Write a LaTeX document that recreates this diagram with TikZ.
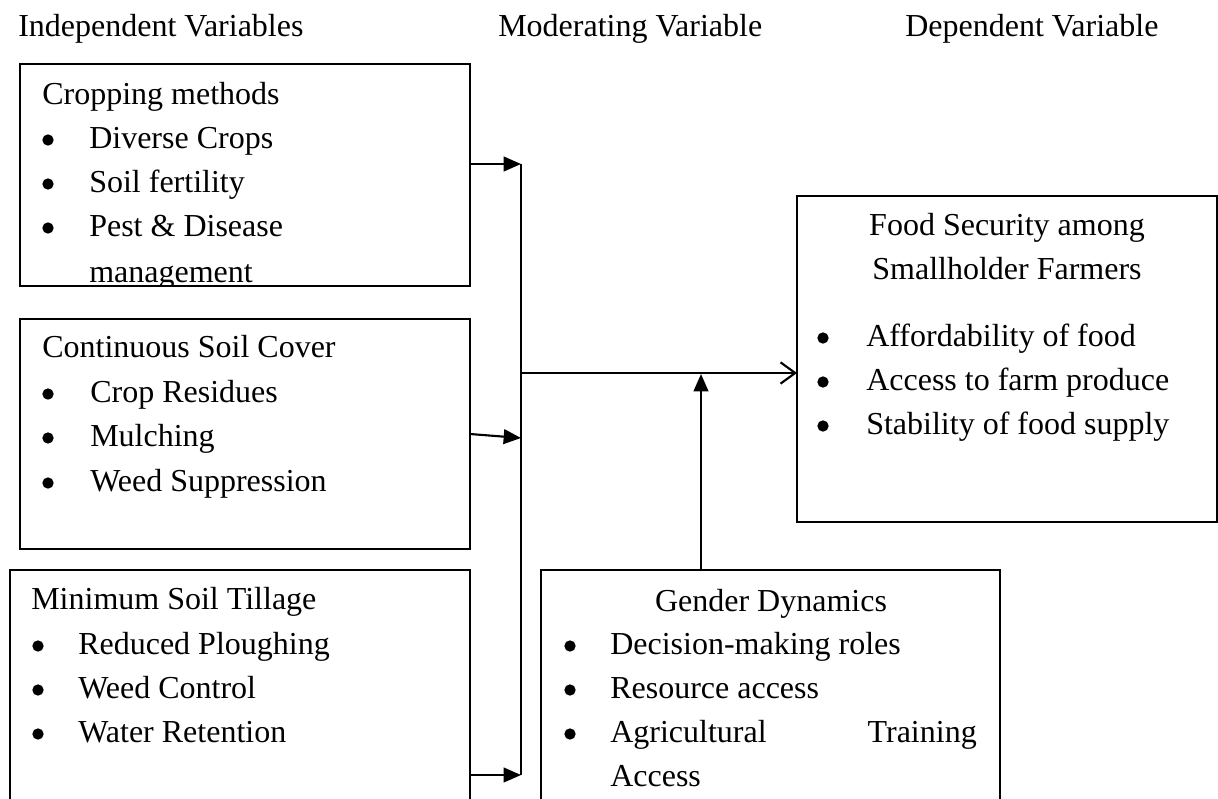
\documentclass[tikz,border=0pt]{standalone}
\usepackage{fontspec}
\setmainfont{Liberation Serif}
\usetikzlibrary{arrows.meta}
\begin{document}
\begin{tikzpicture}[x=0.75pt,y=-0.75pt,
  box/.style={draw,line width=1.4pt,anchor=north west,inner sep=0,outer sep=0},
  txt/.style={anchor=base west,inner sep=0,font=\fontsize{24}{30}\selectfont},
  rtxt/.style={anchor=base east,inner sep=0,font=\fontsize{24}{30}\selectfont},
  ctxt/.style={anchor=base,inner sep=0,font=\fontsize{24}{30}\selectfont},
  dot/.style={circle,fill,inner sep=0,minimum size=8.5pt},
  conn/.style={line width=1.6pt},
  tip/.style={-{Triangle[length=13pt,width=11pt]}},
  opentip/.style={-{Straight Barb[length=11pt,width=16pt,line width=1.6pt]}}
]
\path[use as bounding box, clip] (0,0) rectangle (1218,799);
\fill[white] (0,0) rectangle (1218,799);

% headers
\node[txt] (h1) at (18,37) {Independent Variables};
\node[txt] (h2) at (498,37) {Moderating Variable};
\node[txt] (h3) at (905,37) {Dependent Variable};

% boxes
\node[box,minimum width=337.5pt,minimum height=166.5pt] (b1) at (20,64) {};
\node[box,minimum width=337.5pt,minimum height=172.5pt] (b2) at (20,319) {};
\node[box,minimum width=345pt,minimum height=195pt] (b3) at (10,570) {};
\node[box,minimum width=344.25pt,minimum height=195pt] (b5) at (541,570) {};
\node[box,minimum width=315pt,minimum height=244.5pt] (b4) at (797,196) {};

% box 1 text (clipped at the bottom)
\begin{scope}
\clip (20,64) rectangle (470,285);
\node[txt] (t1) at (42,104) {Cropping methods};
\node[dot] (d11) at (48,140) {};
\node[txt] (t11) at (89,148) {Diverse Crops};
\node[dot] (d12) at (48,184) {};
\node[txt] (t12) at (89,192) {Soil fertility};
\node[dot] (d13) at (48,228) {};
\node[txt] (t13) at (89,236) {Pest \& Disease};
\node[txt] (t14) at (89,282) {management};
\end{scope}

% box 2 text
\node[txt] (t2) at (42,357) {Continuous Soil Cover};
\node[dot] (d21) at (48,394) {};
\node[txt] (t21) at (90,402) {Crop Residues};
\node[dot] (d22) at (48,438) {};
\node[txt] (t22) at (90,446) {Mulching};
\node[dot] (d23) at (48,483) {};
\node[txt] (t23) at (90,491) {Weed Suppression};

% box 3 text
\node[txt] (t3) at (31,609) {Minimum Soil Tillage};
\node[dot] (d31) at (38,646) {};
\node[txt] (t31) at (78,654) {Reduced Ploughing};
\node[dot] (d32) at (38,690) {};
\node[txt] (t32) at (78,698) {Weed Control};
\node[dot] (d33) at (38,734) {};
\node[txt] (t33) at (78,742) {Water Retention};

% gender box text
\node[ctxt] (t5) at (771,611) {Gender Dynamics};
\node[dot] (d51) at (570,646) {};
\node[txt] (t51) at (610,654) {Decision-making roles};
\node[dot] (d52) at (570,690) {};
\node[txt] (t52) at (610,698) {Resource access};
\node[dot] (d53) at (570,734) {};
\node[txt] (t53) at (610,742) {Agricultural};
\node[rtxt] (t53b) at (977,742) {Training};
\node[txt] (t54) at (610,786) {Access};

% dependent box text
\node[ctxt] (t4a) at (1007,235) {Food Security among};
\node[ctxt] (t4b) at (1007,279) {Smallholder Farmers};
\node[dot] (d41) at (823,338) {};
\node[txt] (t41) at (866,346) {Affordability of food};
\node[dot] (d42) at (823,382) {};
\node[txt] (t42) at (866,390) {Access to farm produce};
\node[dot] (d43) at (823,426) {};
\node[txt] (t43) at (866,434) {Stability of food supply};

% connectors
\coordinate (j1) at (521,164);
\coordinate (j2) at (521,438);
\coordinate (j3) at (521,775);
\coordinate (jm) at (521,373);
\coordinate (up) at (701,374);
\draw[conn] (j1) -- (j3);
\draw[conn,tip] (b1.east |- j1) -- (j1);
\draw[conn,tip] (b2.east) -- (j2);
\draw[conn,tip] (b3.east |- j3) -- (j3);
\draw[conn,opentip] (jm) -- (b4.west |- jm);
\draw[conn,tip] (up |- b5.north) -- (up);
\end{tikzpicture}
\end{document}
